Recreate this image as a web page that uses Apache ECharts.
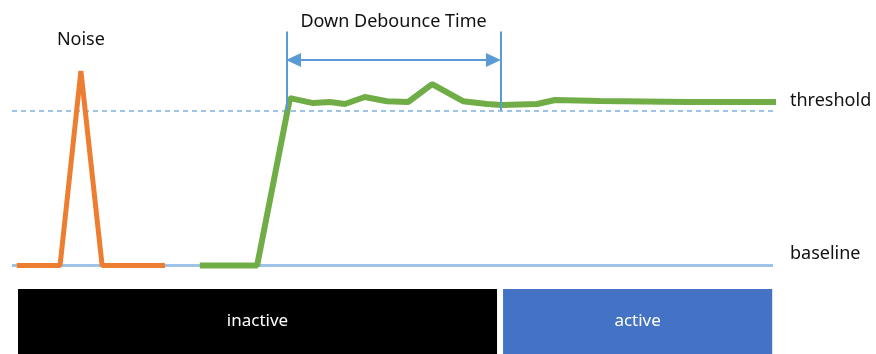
<!DOCTYPE html>
<html>
<head>
<meta charset="utf-8">
<script src="https://cdn.jsdelivr.net/npm/echarts@6/dist/echarts.min.js"></script>
<style>
  html, body { margin: 0; padding: 0; background: #fff; }
  #chart { width: 876px; height: 354px; }
</style>
</head>
<body>
<div id="chart"></div>
<script>
// time axis in ms, signal level in counts (baseline 0, threshold 100)
const noiseTime = [1.2, 12, 17.2, 22.5, 38.2]
const noiseLevel = [0, 0, 125.5, 0, 0]

const touchTime = [46.9, 61.2, 69.4, 75.2, 79.4, 83.1, 88.1, 93.6, 98.9, 104.9, 112.6, 118.6, 122.3, 131.1, 135.6, 146.8, 168.8, 190.8]
const touchLevel = [0, 0, 108, 104.8, 105.5, 104.2, 108.7, 106, 105.5, 117, 106, 104.2, 103.5, 104.2, 106.8, 106.1, 105.5, 105.5]

const baselineLevel = 0
const thresholdLevel = 100

const debounceStart = 68.5
const debounceEnd = 122
const debounceTop = 151
const debounceArrowLevel = 132.6
// arrow heads are centred on their end point, so pull them in by half a head
const arrowInset = 1.8

const stateNames = ['inactive', 'active']
const stateStart = [1.5, 122.6]
const stateEnd = [121.1, 189.8]
const stateColors = ['#000000', '#4472C4']

const FONT = 'Noto Sans'

const chart = echarts.init(document.getElementById('chart'))

function pairs(xs, ys) {
  return xs.map((x, i) => [x, ys[i]])
}

const noiseData = pairs(noiseTime, noiseLevel)
// label the noise spike
noiseData[2] = {
  value: noiseData[2],
  label: { show: true, formatter: 'Noise', position: 'top', distance: 22, color: '#111', fontSize: 18, fontFamily: FONT }
}

// right-hand labels sit a little above their line: add an empty second row
function sideLabel(text, lh) {
  return {
    formatter: text + '\n ',
    position: 'end',
    distance: 17,
    lineHeight: lh,
    color: '#111',
    fontSize: 18,
    fontFamily: FONT
  }
}

const option = {
  animation: false,
  grid: [
    { left: 12, right: 103, top: 2, height: 279 },
    { left: 12, right: 103, top: 289, height: 65 }
  ],
  xAxis: [
    { type: 'value', gridIndex: 0, min: 0, max: 190, show: false },
    { type: 'value', gridIndex: 1, min: 0, max: 190, show: false }
  ],
  yAxis: [
    { type: 'value', gridIndex: 0, min: -10, max: 170, show: false },
    { type: 'value', gridIndex: 1, min: 0, max: 1, show: false }
  ],
  series: [
    {
      // reference lines
      type: 'line',
      z: 1,
      data: [],
      markLine: {
        silent: true,
        z: 1,
        symbol: 'none',
        data: [
          {
            yAxis: thresholdLevel,
            lineStyle: { color: '#9DC3E6', width: 2, type: [5, 4] },
            label: sideLabel('threshold', 20)
          },
          {
            yAxis: baselineLevel,
            lineStyle: { color: '#9DC3E6', width: 3, type: 'solid' },
            label: sideLabel('baseline', 24)
          }
        ]
      }
    },
    {
      name: 'noise',
      type: 'line',
      z: 3,
      data: noiseData,
      showSymbol: true,
      symbolSize: 0,
      lineStyle: { color: '#ED7D31', width: 5 },
      itemStyle: { color: '#ED7D31' }
    },
    {
      name: 'touch',
      type: 'line',
      z: 3,
      data: pairs(touchTime, touchLevel),
      showSymbol: false,
      lineStyle: { color: '#70AD47', width: 6 },
      itemStyle: { color: '#70AD47' },
      markLine: {
        silent: true,
        z: 4,
        lineStyle: { color: '#5B9BD5', width: 2, type: 'solid' },
        data: [
          [{ coord: [debounceStart, thresholdLevel], symbol: 'none' }, { coord: [debounceStart, debounceTop], symbol: 'none' }],
          [{ coord: [debounceEnd, thresholdLevel], symbol: 'none' }, { coord: [debounceEnd, debounceTop], symbol: 'none' }],
          [
            { coord: [debounceStart + arrowInset, debounceArrowLevel], symbol: 'triangle', symbolSize: [14, 15] },
            {
              coord: [debounceEnd - arrowInset, debounceArrowLevel], symbol: 'triangle', symbolSize: [14, 15],
              label: { show: true, formatter: 'Down Debounce Time', position: 'middle', distance: 29, color: '#111', fontSize: 18, fontFamily: FONT }
            }
          ]
        ],
        label: { show: false }
      }
    },
    {
      name: 'state',
      type: 'custom',
      xAxisIndex: 1,
      yAxisIndex: 1,
      data: stateNames.map((n, i) => [stateStart[i], stateEnd[i], n]),
      renderItem(params, api) {
        const p0 = api.coord([api.value(0), 1])
        const p1 = api.coord([api.value(1), 0])
        return {
          type: 'rect',
          shape: { x: p0[0], y: p0[1], width: p1[0] - p0[0], height: p1[1] - p0[1] },
          style: { fill: stateColors[params.dataIndex] },
          textContent: {
            style: {
              text: stateNames[params.dataIndex],
              fill: '#fff',
              fontSize: 17,
              fontFamily: FONT
            }
          },
          textConfig: { position: 'inside' }
        }
      }
    }
  ]
}

chart.setOption(option)

window.addEventListener('resize', () => {
  chart.resize()
})
</script>
</body>
</html>
